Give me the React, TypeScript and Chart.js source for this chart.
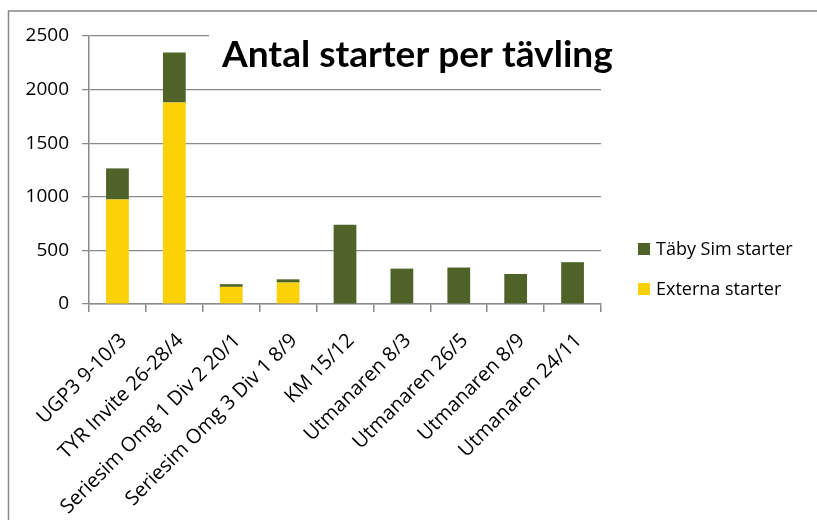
import React, { useEffect, useRef } from "react";
import { Chart, registerables } from "chart.js";

Chart.register(...registerables);

const categories = [
  "UGP3 9-10/3",
  "TYR Invite 26-28/4",
  "Seriesim Omg 1 Div 2 20/1",
  "Seriesim Omg 3 Div 1 8/9",
  "KM 15/12",
  "Utmanaren 8/3",
  "Utmanaren 26/5",
  "Utmanaren 8/9",
  "Utmanaren 24/11",
];
const externaStarter = [975, 1880, 160, 200, 0, 0, 0, 0, 0];
const tabySimStarter = [290, 465, 25, 30, 740, 330, 340, 280, 390];
const yTicks = [0, 500, 1000, 1500, 2000, 2500];
const title = "Antal starter per tävling";

const GREEN = "#4F6228";
const YELLOW = "#FAD207";
const GRID = "#8a8a8a";
const FONT = "Open Sans";
const TITLE_FONT = "Lato";

export default function App() {
  const ref = useRef<HTMLCanvasElement | null>(null);

  useEffect(() => {
    if (!ref.current) return;
    const decor = {
      id: "decor",
      beforeDraw(chart: any) {
        const ctx = chart.ctx;
        ctx.save();
        ctx.fillStyle = "#ffffff";
        ctx.fillRect(0, 0, chart.width, chart.height);
        ctx.strokeStyle = "#868686";
        ctx.lineWidth = 1.5;
        ctx.strokeRect(8.5, 11, chart.width + 10, chart.height + 10);
        ctx.restore();
      },
      afterDraw(chart: any) {
        const ctx = chart.ctx;
        ctx.save();
        // title with white backdrop
        ctx.fillStyle = "#ffffff";
        ctx.fillRect(209, 28, 412, 16);
        ctx.font = `bold 36px ${TITLE_FONT}`;
        const w = ctx.measureText(title).width;
        const target = 391;
        const size = 36 * (target / w);
        ctx.font = `bold ${size}px ${TITLE_FONT}`;
        ctx.fillStyle = "#000000";
        ctx.textAlign = "left";
        ctx.textBaseline = "alphabetic";
        ctx.fillText(title, 222, 67);
        // legend
        const items = [chart.data.datasets[1], chart.data.datasets[0]];
        const ys = [249, 289];
        ctx.font = `18px ${FONT}`;
        ctx.textBaseline = "middle";
        items.forEach((ds: any, i: number) => {
          ctx.fillStyle = ds.backgroundColor;
          ctx.fillRect(638, ys[i] - 6, 12, 12);
          ctx.fillStyle = "#000000";
          ctx.fillText(ds.label, 656, ys[i] + 1);
        });
        ctx.restore();
      },
    };

    const chart = new Chart(ref.current, {
      type: "bar",
      data: {
        labels: categories,
        datasets: [
          {
            label: "Externa starter",
            data: externaStarter,
            backgroundColor: YELLOW,
            barPercentage: 0.4,
            categoryPercentage: 1,
          },
          {
            label: "Täby Sim starter",
            data: tabySimStarter,
            backgroundColor: GREEN,
            barPercentage: 0.4,
            categoryPercentage: 1,
          },
        ],
      },
      options: {
        animation: false,
        responsive: false,
        maintainAspectRatio: false,
        layout: { padding: { left: 0, top: 36, right: 216, bottom: 0 } },
        plugins: {
          legend: { display: false },
          title: { display: false },
          tooltip: { enabled: false },
        },
        scales: {
          x: {
            stacked: true,
            border: { display: true, color: GRID, width: 1.5 },
            grid: {
              display: true,
              drawOnChartArea: false,
              drawTicks: true,
              tickLength: 8,
              color: GRID,
              lineWidth: 1.5,
              offset: true,
            },
            ticks: {
              minRotation: 45,
              maxRotation: 45,
              autoSkip: false,
              color: "#000000",
              font: { family: FONT, size: 20 },
              padding: 17,
              labelOffset: 6,
            },
            afterFit(scale: any) {
              scale.height = 216;
            },
          },
          y: {
            stacked: true,
            min: 0,
            max: 2500,
            border: { display: true, color: GRID, width: 1.5 },
            grid: {
              color: GRID,
              lineWidth: 1.25,
              tickLength: 7,
              drawTicks: true,
            },
            afterBuildTicks(scale: any) {
              scale.ticks = yTicks.map((v) => ({ value: v }));
            },
            ticks: {
              color: "#000000",
              font: { family: FONT, size: 19 },
              padding: 13,
              callback: (v: any) => String(v),
            },
            afterFit(scale: any) {
              scale.width = 89;
            },
          },
        },
      },
      plugins: [decor],
    });
    return () => chart.destroy();
  }, []);

  return (
    <div style={{ position: "absolute", left: 0, top: 0, width: 817, height: 520 }}>
      <canvas ref={ref} width={817} height={520} style={{ display: "block" }} />
    </div>
  );
}
